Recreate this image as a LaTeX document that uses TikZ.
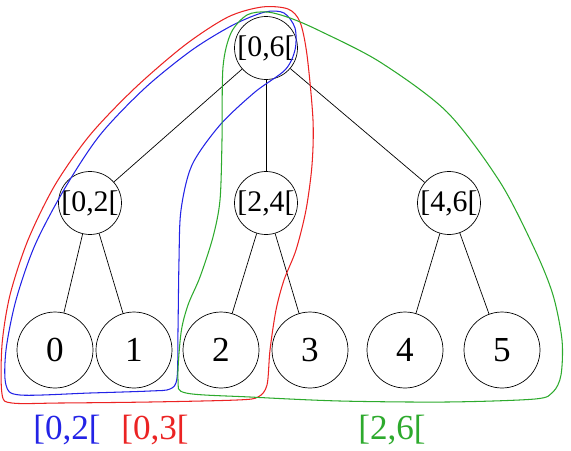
\documentclass[tikz,border=0pt]{standalone}
\usepackage{fontspec}
\setmainfont{Liberation Serif}
\usepackage{xcolor}
\definecolor{cred}{RGB}{235,35,35}
\definecolor{cblue}{RGB}{35,35,230}
\definecolor{cgreen}{RGB}{45,170,45}

\begin{document}
\begin{tikzpicture}[x=0.02cm,y=-0.02cm]
  \tikzset{inner node/.style={draw,circle,inner sep=0pt,minimum size=1.26cm,font=\fontsize{17}{18}\selectfont},
           leaf node/.style={draw,circle,inner sep=0pt,minimum size=1.52cm,font=\fontsize{20}{22}\selectfont},
           range/.style={draw=#1,line width=0.6pt},
           range label/.style={text=#1,font=\fontsize{20}{22}\selectfont}}
  \useasboundingbox (0,0) rectangle (571,450);

  \node [inner node] (R) at (266,48) {[0,6[}; % root
  \node [inner node] (A) at (90,203) {[0,2[};
  \node [inner node] (B) at (266,203) {[2,4[};
  \node [inner node] (C) at (449,203) {[4,6[};
  \node [leaf node] (L0) at (55,350) {0};
  \node [leaf node] (L1) at (134,350) {1};
  \node [leaf node] (L2) at (221,350) {2};
  \node [leaf node] (L3) at (310,350) {3};
  \node [leaf node] (L4) at (405,350) {4};
  \node [leaf node] (L5) at (502,350) {5};

  \draw (R) -- (A);
  \draw (R) -- (B);
  \draw (R) -- (C);
  \draw (A) -- (L0);
  \draw (A) -- (L1);
  \draw (B) -- (L2);
  \draw (B) -- (L3);
  \draw (C) -- (L4);
  \draw (C) -- (L5);

  % [0,2[
  \draw [range=cblue] plot [smooth cycle,tension=0.5] coordinates {
    (20,395) (6,385) (6,350) (16,300) (35,245) (65,188) (100,135) (145,88)
    (192,50) (233,25) (265,12) (284,13) (295,28) (295,50) (285,70) (255,92)
    (220,125) (192,165) (181,210) (179,260) (178,330) (177,378) (170,389)
    (150,391) (90,393)};
  % [0,3[
  \draw [range=cred] plot [smooth cycle,tension=0.5] coordinates {
    (12,403) (2,394) (2,345) (10,295) (28,240) (55,185) (90,135) (135,88)
    (185,45) (228,17) (262,7) (288,9) (300,22) (307,55) (313,120) (312,165)
    (306,210) (296,250) (284,280) (276,310) (270,350) (267,385) (258,397)
    (237,400) (150,402) (60,403)};
  % [2,6[
  \draw [range=cgreen] plot [smooth cycle,tension=0.5] coordinates {
    (222,140) (220,200) (213,237) (200,277) (188,305) (181,333) (178,380)
    (186,393) (250,397) (340,401) (447,402) (535,399) (553,392) (561,375)
    (562,340) (553,295) (535,250) (500,182) (447,112) (380,62) (320,31)
    (290,18) (267,12) (247,15) (231,33) (223,67)};

  \node [range label=cblue] (lblue) at (67,430) {[0,2[};
  \node [range label=cred] (lred) at (155,430) {[0,3[};
  \node [range label=cgreen] (lgreen) at (392,430) {[2,6[};
\end{tikzpicture}
\end{document}
